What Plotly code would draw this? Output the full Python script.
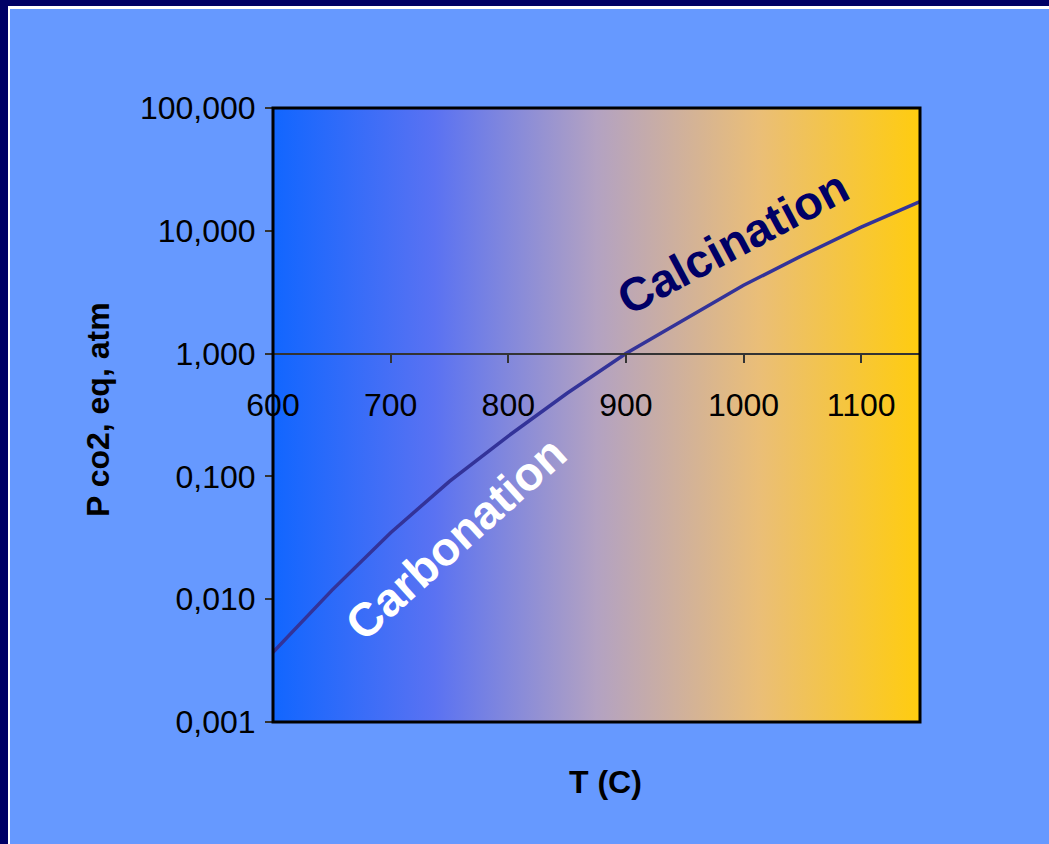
import base64
import plotly.graph_objects as go

# ---- data ----
temperature_c = [600, 650, 700, 750, 800, 850, 900, 950, 1000, 1050, 1100, 1150]
p_co2_atm = [0.0037, 0.0118, 0.0348, 0.091, 0.213, 0.475, 1.0, 1.9, 3.6, 6.3, 10.7, 17.3]

y_tick_vals = [0.001, 0.01, 0.1, 1, 10, 100]
y_tick_text = ["0,001", "0,010", "0,100", "1,000", "10,000", "100,000"]
x_tick_vals = [600, 700, 800, 900, 1000, 1100]
x_tick_text = ["600", "700", "800", "900", "1000", "1100"]

x_title = "T (C)"
y_title = "P co2, eq, atm"
label_carbonation = "Carbonation"
label_calcination = "Calcination"

# ---- layout geometry (pixels) ----
FW, FH = 1049, 844
PL, PR, PT, PB = 273, 920, 108, 722
W, H = PR - PL, PB - PT


def px(x):
    return (x - PL) / W


def py(y):
    return (PB - y) / H


FONT = "Arial, Liberation Sans, sans-serif"
PAGE_BG = "#6699FF"
NAVY = "#000066"

grad_svg = (
    "<svg xmlns='http://www.w3.org/2000/svg' width='200' height='100' preserveAspectRatio='none'>"
    "<defs><linearGradient id='g' x1='0' y1='0' x2='1' y2='0'>"
    "<stop offset='0' stop-color='#1166FF'/>"
    "<stop offset='0.25' stop-color='#5A72F2'/>"
    "<stop offset='0.5' stop-color='#B3A2C2'/>"
    "<stop offset='0.75' stop-color='#EABE78'/>"
    "<stop offset='1' stop-color='#FFCC0F'/>"
    "</linearGradient></defs>"
    "<rect x='0' y='0' width='200' height='100' fill='url(#g)'/></svg>"
)
grad_src = "data:image/svg+xml;base64," + base64.b64encode(grad_svg.encode()).decode()

fig = go.Figure()
fig.add_trace(go.Scatter(
    x=temperature_c, y=p_co2_atm, mode="lines",
    line=dict(color="#333399", width=3.5),
    hoverinfo="x+y", showlegend=False,
))

shapes = [
    # frame on left and top
    dict(type="rect", xref="paper", yref="paper", x0=px(0), x1=px(8), y0=py(FH), y1=py(0),
         fillcolor=NAVY, line=dict(width=0), layer="above"),
    dict(type="rect", xref="paper", yref="paper", x0=px(0), x1=px(FW), y0=py(6), y1=py(0),
         fillcolor=NAVY, line=dict(width=0), layer="above"),
    dict(type="rect", xref="paper", yref="paper", x0=px(8), x1=px(10), y0=py(FH), y1=py(6),
         fillcolor="white", line=dict(width=0), layer="above"),
    dict(type="rect", xref="paper", yref="paper", x0=px(8), x1=px(FW), y0=py(9), y1=py(6),
         fillcolor="white", line=dict(width=0), layer="above"),
    # plot border
    dict(type="rect", xref="paper", yref="paper", x0=0, x1=1, y0=0, y1=1,
         line=dict(color="black", width=3), layer="above"),
]

annotations = [
    dict(text=f"<b>{y_title}</b>", xref="paper", yref="paper", x=px(98), y=py(410),
         xanchor="center", yanchor="middle",
         textangle=-90, showarrow=False, font=dict(family=FONT, size=32, color="black")),
    dict(text=f"<b>{x_title}</b>", xref="paper", yref="paper", x=px(605), y=py(782),
         xanchor="center", yanchor="middle",
         showarrow=False, font=dict(family=FONT, size=32, color="black")),
    dict(text=f"<b>{label_carbonation}</b>", xref="paper", yref="paper", x=px(455), y=py(538),
         xanchor="center", yanchor="middle",
         textangle=-42, showarrow=False, font=dict(family=FONT, size=47, color="white")),
    dict(text=f"<b>{label_calcination}</b>", xref="paper", yref="paper", x=px(732), y=py(242),
         xanchor="center", yanchor="middle",
         textangle=-28, showarrow=False, font=dict(family=FONT, size=47, color=NAVY)),
]

fig.update_layout(
    width=FW, height=FH,
    margin=dict(l=PL, r=FW - PR, t=PT, b=FH - PB, pad=0),
    paper_bgcolor=PAGE_BG,
    plot_bgcolor="rgba(0,0,0,0)",
    font=dict(family=FONT, color="black"),
    showlegend=False,
    shapes=shapes,
    annotations=annotations,
    images=[dict(source=grad_src, xref="paper", yref="paper", x=0, y=1, sizex=1, sizey=1,
                 xanchor="left", yanchor="top", sizing="stretch", layer="below")],
    xaxis=dict(
        range=[600, 1150], tickmode="array", tickvals=x_tick_vals, ticktext=x_tick_text,
        ticks="outside", ticklen=9, tickwidth=1.5, tickcolor="#333333",
        showline=True, linecolor="#333333", linewidth=1.5,
        showgrid=False, zeroline=False, anchor="free", position=0.6,
        ticklabelstandoff=14,
        tickfont=dict(family=FONT, size=32, color="black"),
    ),
    yaxis=dict(
        type="log", range=[-3, 2], tickmode="array", tickvals=y_tick_vals, ticktext=y_tick_text,
        ticks="outside", ticklen=7, tickwidth=1.5, tickcolor="#333333",
        showline=False, showgrid=False, zeroline=False,
        ticklabelstandoff=3,
        tickfont=dict(family=FONT, size=32, color="black"),
    ),
)

fig.write_html(
    "out.html",
    config={"displayModeBar": False},
    post_script="document.body.style.margin='0';document.body.style.overflow='hidden';",
)
